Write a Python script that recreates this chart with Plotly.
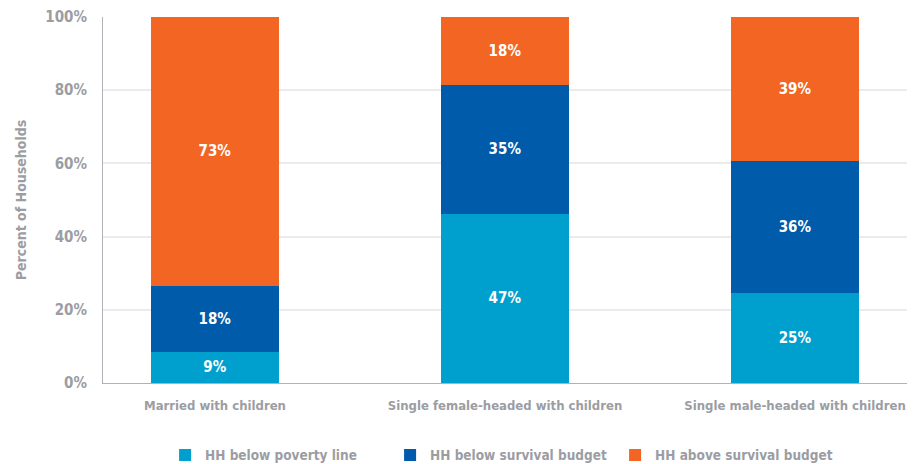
import plotly.graph_objects as go

categories = ["Married with children", "Single female-headed with children", "Single male-headed with children"]
series_names = ["HH below poverty line", "HH below survival budget", "HH above survival budget"]
below_poverty = [8.6, 46.2, 24.7]
below_survival = [18.0, 35.2, 36.0]
above_survival = [73.4, 18.6, 39.3]
below_poverty_labels = ["9%", "47%", "25%"]
below_survival_labels = ["18%", "35%", "36%"]
above_survival_labels = ["73%", "18%", "39%"]
y_ticks = [0, 20, 40, 60, 80, 100]
y_tick_labels = ["0%", "20%", "40%", "60%", "80%", "100%"]

colors = ["#00A0CE", "#005BAA", "#F26522"]
FONT = "Liberation Sans Narrow, DejaVu Sans Condensed, Arial Narrow, sans-serif"
GRAY = "#9B9DA3"

fig = go.Figure()
for name, vals, labels, col in zip(series_names,
                                   [below_poverty, below_survival, above_survival],
                                   [below_poverty_labels, below_survival_labels, above_survival_labels],
                                   colors):
    fig.add_trace(go.Bar(
        x=categories, y=vals, name=name, marker=dict(color=col, line=dict(width=0)),
        text=labels, textposition="inside", insidetextanchor="middle", textangle=0,
        insidetextfont=dict(color="white", size=15, family=FONT, weight="bold"),
        width=0.44, hoverinfo="skip"))

fig.update_layout(
    barmode="stack",
    width=913, height=464,
    margin=dict(l=103, r=6, t=17, b=81, autoexpand=False),
    paper_bgcolor="white", plot_bgcolor="white",
    font=dict(family=FONT, color=GRAY, size=15, weight="bold"),
    showlegend=True,
    legend=dict(orientation="h", x=0.497, xanchor="center", y=-0.197, yanchor="middle",
                font=dict(size=13.5, color=GRAY, family=FONT, weight="bold"),
                entrywidth=180, entrywidthmode="pixels", traceorder="normal"),
    xaxis=dict(range=[-0.386, 2.386], showline=True, linecolor="#B0B2B8", linewidth=1,
               ticks="", ticklabelstandoff=10, automargin=False,
               tickfont=dict(size=13, color=GRAY, family=FONT, weight="bold"),
               showgrid=False, fixedrange=True),
    yaxis=dict(range=[0, 100], tickvals=y_ticks, ticktext=y_tick_labels,
               showline=True, linecolor="#B0B2B8", linewidth=1, automargin=False,
               gridcolor="#EBEBEB", gridwidth=1.5, ticks="", ticklen=0, ticklabelstandoff=12,
               tickfont=dict(size=15, color=GRAY, family=FONT, weight="bold"),
               title=dict(text="Percent of Households", font=dict(size=14, color=GRAY, family=FONT, weight="bold")),
               zeroline=False, fixedrange=True),
)

fig.write_html("out.html")
